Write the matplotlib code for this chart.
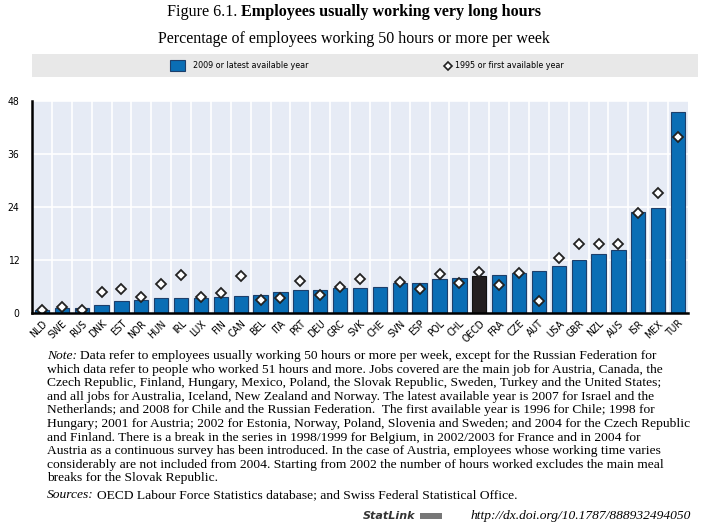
import matplotlib.pyplot as plt
from matplotlib.patches import Rectangle
import numpy as np

countries = ["NLD", "SWE", "RUS", "DNK", "EST", "NOR", "HUN", "IRL", "LUX", "FIN",
             "CAN", "BEL", "ITA", "PRT", "DEU", "GRC", "SVK", "CHE", "SVN", "ESP",
             "POL", "CHL", "OECD", "FRA", "CZE", "AUT", "USA", "GBR", "NZL", "AUS",
             "ISR", "MEX", "TUR"]
latest = [0.6, 1.1, 1.2, 1.8, 2.8, 2.9, 3.3, 3.4, 3.5, 3.7,
          3.8, 4.1, 4.7, 5.2, 5.2, 5.6, 5.7, 5.8, 6.9, 6.9,
          7.6, 7.9, 8.4, 8.5, 9.1, 9.5, 10.7, 12.0, 13.3, 14.2,
          22.8, 23.8, 45.5]
first = [0.75, 1.4, 0.7, 4.7, 5.4, 3.7, 6.6, 8.7, 3.6, 4.5,
         8.4, 3.0, 3.3, 7.3, 4.1, 5.9, 7.7, None, 7.0, 5.5,
         8.8, 6.9, 9.2, 6.3, 9.0, 2.8, 12.4, 15.7, 15.6, 15.7,
         22.7, 27.2, 39.9]
yticks = [0, 12, 24, 36, 48]

note_lines = [
    "Data refer to employees usually working 50 hours or more per week, except for the Russian Federation for",
    "which data refer to people who worked 51 hours and more. Jobs covered are the main job for Austria, Canada, the",
    "Czech Republic, Finland, Hungary, Mexico, Poland, the Slovak Republic, Sweden, Turkey and the United States;",
    "and all jobs for Australia, Iceland, New Zealand and Norway. The latest available year is 2007 for Israel and the",
    "Netherlands; and 2008 for Chile and the Russian Federation.  The first available year is 1996 for Chile; 1998 for",
    "Hungary; 2001 for Austria; 2002 for Estonia, Norway, Poland, Slovenia and Sweden; and 2004 for the Czech Republic",
    "and Finland. There is a break in the series in 1998/1999 for Belgium, in 2002/2003 for France and in 2004 for",
    "Austria as a continuous survey has been introduced. In the case of Austria, employees whose working time varies",
    "considerably are not included from 2004. Starting from 2002 the number of hours worked excludes the main meal",
    "breaks for the Slovak Republic.",
]

W, H = 708, 523
BLUE = "#0a6eb5"
EDGE = "#1d3f6b"
SERIF = "Liberation Serif"
NARROW = "DejaVu Sans"
NOTE_FS = 9.7

fig = plt.figure(figsize=(W / 100, H / 100), dpi=100)


def fx(px):
    return px / W


def fy(py):
    return 1 - py / H


# title with a plain prefix and a bold remainder
renderer = fig.canvas.get_renderer()
t1 = fig.text(0, fy(12), "Figure 6.1. ", fontsize=11.6, family=SERIF, va="center")
t2 = fig.text(0, fy(12), "Employees usually working very long hours", fontsize=11.6,
              family=SERIF, weight="bold", va="center")
w1 = t1.get_window_extent(renderer).width
w2 = t2.get_window_extent(renderer).width
x0 = (W - w1 - w2) / 2
t1.set_x(fx(x0))
t2.set_x(fx(x0 + w1))

fig.text(0.5, fy(39), "Percentage of employees working 50 hours or more per week",
         fontsize=11.5, family=SERIF, ha="center", va="center")

# legend band
fig.patches.append(Rectangle((fx(32), fy(77)), fx(698) - fx(32), fy(54) - fy(77),
                             transform=fig.transFigure, facecolor="#e8e8e8",
                             edgecolor="none"))
fig.patches.append(Rectangle((fx(170), fy(71)), fx(15), fy(60) - fy(71),
                             transform=fig.transFigure, facecolor=BLUE,
                             edgecolor=EDGE, linewidth=0.8))
fig.text(fx(193), fy(66), "2009 or latest available year", fontsize=6.4,
         family=NARROW, stretch="condensed", va="center")
fig.lines.append(plt.Line2D([fx(448)], [fy(66)], transform=fig.transFigure,
                            marker="D", markersize=4.5, markerfacecolor="white",
                            markeredgecolor="#222222", markeredgewidth=1.2,
                            linestyle="none"))
fig.text(fx(455), fy(66), "1995 or first available year", fontsize=6.4,
         family=NARROW, stretch="condensed", va="center")

# main chart
ax = fig.add_axes([fx(32), fy(313), fx(688) - fx(32), fy(101) - fy(313)])
ax.set_facecolor("#e6ebf5")
x = np.arange(len(countries))
colors = ["#231f20" if c == "OECD" else BLUE for c in countries]
edges = ["#111111" if c == "OECD" else EDGE for c in countries]
ax.bar(x, latest, width=0.72, color=colors, edgecolor=edges, linewidth=0.8, zorder=3)
fx_pts = [i for i, v in enumerate(first) if v is not None]
fy_pts = [v for v in first if v is not None]
ax.plot(fx_pts, fy_pts, linestyle="none", marker="D", markersize=5,
        markerfacecolor="white", markeredgecolor="#222222", markeredgewidth=1.3,
        zorder=4)

ax.set_xlim(-0.5, len(countries) - 0.5)
ax.set_ylim(0, 48)
ax.set_yticks(yticks)
ax.set_yticklabels([str(v) for v in yticks], family=NARROW, stretch="condensed",
                   fontsize=7.5)
ax.tick_params(axis="y", length=0, pad=9)
for v in yticks[1:]:
    ax.axhline(v, color="white", linewidth=1.2, zorder=1)
for b in np.arange(0.5, len(countries) - 0.5):
    ax.axvline(b, color="white", linewidth=1.2, zorder=1)

ax.set_xticks(x)
ax.set_xticklabels(countries, rotation=45, ha="right", rotation_mode="anchor",
                   family=NARROW, stretch="condensed", fontsize=7.5)
ax.tick_params(axis="x", length=0, pad=4)

for side in ["top", "right"]:
    ax.spines[side].set_visible(False)
ax.spines["left"].set_linewidth(1.8)
ax.spines["bottom"].set_linewidth(1.8)
ax.spines["left"].set_zorder(5)
ax.spines["bottom"].set_zorder(5)

# note and sources
note_y = 356
for i, line in enumerate(note_lines):
    ypos = fy(note_y + i * 13.6)
    if i == 0:
        tn = fig.text(fx(47), ypos, "Note:", fontsize=NOTE_FS, family=SERIF,
                      style="italic", va="center")
        wn = tn.get_window_extent(renderer).width
        fig.text(fx(47 + wn + 3), ypos, line, fontsize=NOTE_FS, family=SERIF,
                 va="center")
    else:
        fig.text(fx(47), ypos, line, fontsize=NOTE_FS, family=SERIF, va="center")

ts = fig.text(fx(47), fy(495), "Sources:", fontsize=NOTE_FS, family=SERIF,
              style="italic", va="center")
ws = ts.get_window_extent(renderer).width
fig.text(fx(47 + ws + 3), fy(495),
         "OECD Labour Force Statistics database; and Swiss Federal Statistical Office.",
         fontsize=NOTE_FS, family=SERIF, va="center")

fig.text(fx(691), fy(516), "http://dx.doi.org/10.1787/888932494050", fontsize=NOTE_FS,
         family=SERIF, style="italic", ha="right", va="center")
fig.patches.append(Rectangle((fx(420), fy(519)), fx(22), fy(513) - fy(519),
                             transform=fig.transFigure, facecolor="#777777",
                             edgecolor="none"))
fig.text(fx(415), fy(516), "StatLink", fontsize=8, family="DejaVu Sans",
         weight="bold", style="italic", ha="right", va="center", color="#333333")

fig.savefig("out.png", dpi=100)
